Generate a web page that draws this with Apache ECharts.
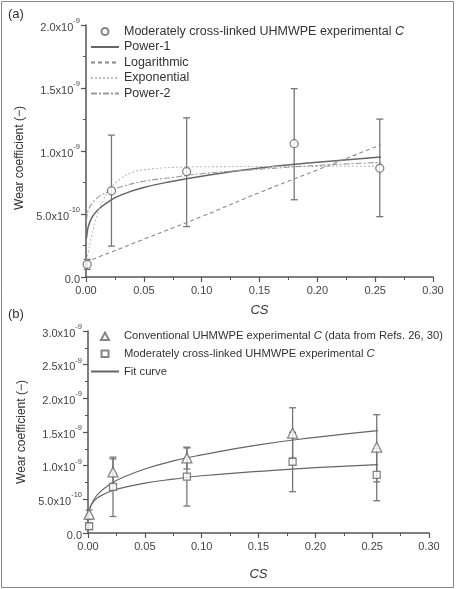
<!DOCTYPE html>
<html>
<head>
<meta charset="UTF-8">
<script src="https://cdn.jsdelivr.net/npm/echarts@6/dist/echarts.min.js"></script>
<style>
html, body { margin: 0; padding: 0; background: #fff; }
#main { width: 457px; height: 589px; }
</style>
</head>
<body>
<div id="main"></div>
<script>
// measured points, values in units of 1e-9
var csPts   = [0.001, 0.022, 0.087, 0.180, 0.254];
var modC    = [0.10, 0.684, 0.837, 1.058, 0.863];
var modLow  = [0.06, 0.245, 0.400, 0.613, 0.479];
var modHigh = [0.14, 1.126, 1.263, 1.495, 1.253];
var convC    = [0.28, 0.907, 1.115, 1.484, 1.276];
var convLow  = [0.20, 0.720, 0.950, 1.110, 0.760];
var convHigh = [0.34, 1.100, 1.275, 1.860, 1.757];

// fitted curves panel (a)
var powX   = [0.0005, 0.001, 0.002, 0.005, 0.01, 0.02, 0.03, 0.05, 0.075, 0.1, 0.15, 0.2, 0.255];
var pow1Y  = [0.31, 0.35, 0.40, 0.47, 0.53, 0.60, 0.65, 0.71, 0.76, 0.80, 0.865, 0.91, 0.953];
var pow2Y  = [0.45, 0.49, 0.53, 0.58, 0.63, 0.68, 0.715, 0.76, 0.79, 0.82, 0.855, 0.885, 0.91];
var expX   = [0, 0.002, 0.005, 0.01, 0.015, 0.02, 0.03, 0.04, 0.05, 0.075, 0.1, 0.15, 0.2, 0.255];
var expY   = [0.10, 0.20, 0.33, 0.50, 0.61, 0.69, 0.78, 0.83, 0.85, 0.87, 0.875, 0.877, 0.878, 0.88];
var logX   = [0, 0.05, 0.1, 0.15, 0.2, 0.255];
var logY   = [0.12, 0.30, 0.48, 0.67, 0.85, 1.05];

// fitted curves panel (b)
var fitX    = [0.0015, 0.005, 0.01, 0.02, 0.03, 0.05, 0.075, 0.1, 0.15, 0.2, 0.255];
var fitConv = [0.35, 0.49, 0.60, 0.73, 0.82, 0.95, 1.07, 1.16, 1.31, 1.42, 1.52];
var fitMod  = [0.37, 0.47, 0.54, 0.62, 0.67, 0.74, 0.80, 0.85, 0.915, 0.97, 1.015];

// tick labels: [mantissa, exponent]
var yTicksA = [['0.0', ''], ['5.0x10', '-10'], ['1.0x10', '-9'], ['1.5x10', '-9'], ['2.0x10', '-9']];
var yTicksB = [['0.0', ''], ['5.0x10', '-10'], ['1.0x10', '-9'], ['1.5x10', '-9'], ['2.0x10', '-9'], ['2.5x10', '-9'], ['3.0x10', '-9']];

var legendText = {
  modA: '{t|Moderately cross-linked UHMWPE experimental }{i|C}',
  modB: '{t|Moderately cross-linked UHMWPE experimental }{i|C}',
  conv: '{t|Conventional UHMWPE experimental }{i|C}{t| (data from Refs. 26, 30)}'
};

var FONT = '"Liberation Sans", Arial, sans-serif';
var AX = '#555';

// legend marker shapes padded out to the 28x9 icon box so they keep their size
var triIcon  = 'path://M0,0M28,9M10,9L14,1.5L18,9Z';
var rectIcon = 'path://M0,0M28,9M10.5,1.5L17.5,1.5L17.5,8L10.5,8Z';

function pairs(xs, ys) { return xs.map(function (x, i) { return [x, ys[i]]; }); }
function bars(xs, lo, hi) { return xs.map(function (x, i) { return [x, lo[i], hi[i]]; }); }

function renderErr(params, api) {
  var x = api.value(0);
  var lo = api.coord([x, api.value(1)]);
  var hi = api.coord([x, api.value(2)]);
  var w = 3.5;
  var st = { stroke: '#777', lineWidth: 1.3 };
  return {
    type: 'group',
    children: [
      { type: 'line', shape: { x1: lo[0], y1: lo[1], x2: hi[0], y2: hi[1] }, style: st },
      { type: 'line', shape: { x1: lo[0] - w, y1: lo[1], x2: lo[0] + w, y2: lo[1] }, style: st },
      { type: 'line', shape: { x1: hi[0] - w, y1: hi[1], x2: hi[0] + w, y2: hi[1] }, style: st }
    ]
  };
}

function tickFmt(list) {
  return function (v, i) {
    var t = list[i];
    if (!t) return '';
    return t[1] ? '{m|' + t[0] + '}{e|' + t[1] + '}' : '{m|' + t[0] + '}';
  };
}

function xAxisCfg(gi, gap) {
  return {
    type: 'value', gridIndex: gi, min: 0, max: 0.3, interval: 0.05,
    name: 'CS', nameLocation: 'middle', nameGap: gap,
    nameTextStyle: { fontStyle: 'italic', fontSize: 13, color: '#333', fontFamily: FONT },
    axisLine: { show: true, lineStyle: { color: AX, width: 1.5 } },
    axisTick: { show: true, length: 5, lineStyle: { color: AX, width: 1.2 } },
    minorTick: { show: true, splitNumber: 2, length: 3, lineStyle: { color: AX, width: 1 } },
    splitLine: { show: false },
    axisLabel: { formatter: function (v) { return v.toFixed(2); }, margin: 8, fontSize: 11, color: '#444', fontFamily: FONT }
  };
}

function yAxisCfg(gi, max, ticks, pad) {
  return {
    type: 'value', gridIndex: gi, min: 0, max: max, interval: 0.5,
    name: 'Wear coefficient (\u2212)', nameLocation: 'middle', nameGap: 58,
    nameTextStyle: { fontSize: 12, color: '#333', fontFamily: FONT, padding: pad },
    axisLine: { show: true, lineStyle: { color: AX, width: 1.5 } },
    axisTick: { show: true, length: 5, lineStyle: { color: AX, width: 1.2 } },
    minorTick: { show: true, splitNumber: 2, length: 3, lineStyle: { color: AX, width: 1 } },
    splitLine: { show: false },
    axisLabel: {
      formatter: tickFmt(ticks), margin: 6,
      rich: {
        m: { fontSize: 11, color: '#444', fontFamily: FONT, lineHeight: 16, verticalAlign: 'bottom' },
        e: { fontSize: 7.5, color: '#444', fontFamily: FONT, lineHeight: 8, verticalAlign: 'top' }
      }
    }
  };
}

function richFor(size) {
  return {
    t: { fontSize: size, color: '#333', fontFamily: FONT },
    i: { fontSize: size, color: '#333', fontFamily: FONT, fontStyle: 'italic' }
  };
}
function legendFmt(name) { return legendText[name] || '{t|' + name + '}'; }
// legend entry for a line: hide the symbol dot, keep the line
function lineItem(name) { return { name: name, itemStyle: { opacity: 0 } }; }

function curve(name, xs, ys, gi, color, type, width) {
  return {
    name: name, type: 'line', xAxisIndex: gi, yAxisIndex: gi,
    data: pairs(xs, ys), smooth: true, symbol: 'none', silent: true,
    color: color, lineStyle: { color: color, type: type, width: width }, z: 3
  };
}

function points(name, symbol, size, gi, ys) {
  return {
    name: name, type: 'scatter', xAxisIndex: gi, yAxisIndex: gi,
    data: pairs(csPts, ys), symbol: symbol, symbolSize: size, symbolKeepAspect: true,
    clip: false, silent: true,
    itemStyle: { color: '#fff', borderColor: '#666', borderWidth: 1.3 }, z: 5
  };
}

function errSeries(gi, lo, hi) {
  return {
    type: 'custom', xAxisIndex: gi, yAxisIndex: gi, renderItem: renderErr,
    data: bars(csPts, lo, hi), encode: { x: 0, y: [1, 2] }, clip: false, silent: true, z: 2
  };
}

var myChart = echarts.init(document.getElementById('main'));
var option = {
  animation: false,
  backgroundColor: '#fff',
  textStyle: { fontFamily: FONT },
  grid: [
    { left: 86, right: 24, top: 25, bottom: 312 },
    { left: 88, right: 28, top: 331, bottom: 56 }
  ],
  xAxis: [xAxisCfg(0, 27), xAxisCfg(1, 35)],
  yAxis: [yAxisCfg(0, 2, yTicksA, [0, 14, 0, 0]), yAxisCfg(1, 3, yTicksB, [0, 0, 0, 0])],
  legend: [
    {
      orient: 'vertical', left: 90, top: 25, padding: 0, itemWidth: 28, itemHeight: 7, itemGap: 2.5,
      selectedMode: false, formatter: legendFmt, textStyle: { rich: richFor(12.5) },
      data: [{ name: 'modA', icon: 'circle' }, lineItem('Power-1'), lineItem('Logarithmic'), lineItem('Exponential'), lineItem('Power-2')]
    },
    {
      orient: 'vertical', left: 90, top: 330, padding: 0, itemWidth: 28, itemHeight: 9, itemGap: 7,
      selectedMode: false, formatter: legendFmt, textStyle: { rich: richFor(11.2) },
      data: [{ name: 'conv', icon: triIcon }, { name: 'modB', icon: rectIcon }, lineItem('Fit curve')]
    }
  ],
  graphic: [
    { type: 'rect', shape: { x: 1.5, y: 1.5, width: 452, height: 586 }, style: { fill: 'none', stroke: '#888', lineWidth: 1 }, silent: true },
    { type: 'text', left: 8, top: 8, style: { text: '(a)', fontSize: 13, fill: '#333', fontFamily: FONT } },
    { type: 'text', left: 8, top: 308, style: { text: '(b)', fontSize: 13, fill: '#333', fontFamily: FONT } }
  ],
  series: [
    errSeries(0, modLow, modHigh),
    curve('Power-1', powX, pow1Y, 0, '#666', 'solid', 1.5),
    curve('Logarithmic', logX, logY, 0, '#888', [4, 3], 1.1),
    curve('Exponential', expX, expY, 0, '#bbb', [2, 2], 1.1),
    curve('Power-2', powX, pow2Y, 0, '#999', [6, 2, 2, 2], 1.1),
    points('modA', 'circle', 8, 0, modC),

    errSeries(1, convLow, convHigh),
    errSeries(1, modLow, modHigh),
    curve('Fit curve', fitX, fitConv, 1, '#666', 'solid', 1.2),
    curve('Fit curve', fitX, fitMod, 1, '#666', 'solid', 1.2),
    points('conv', 'triangle', 10, 1, convC),
    points('modB', 'rect', 7, 1, modC)
  ]
};
myChart.setOption(option);
</script>
</body>
</html>
